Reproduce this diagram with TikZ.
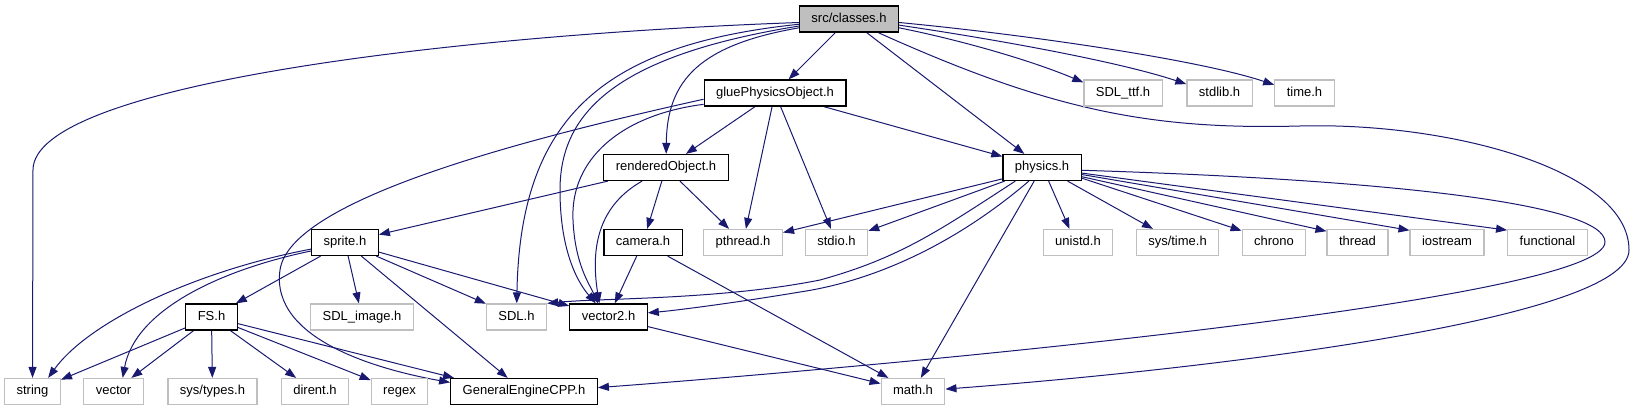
\documentclass[tikz,border=0pt]{standalone}
\usepackage{fontspec}
\setmainfont{Liberation Sans}
\usetikzlibrary{arrows.meta}
\definecolor{edgeblue}{RGB}{25,25,112}
\definecolor{extgray}{RGB}{191,191,191}
\pgfdeclarelayer{bg}
\pgfsetlayers{bg,main}
\begin{document}
\begin{tikzpicture}[x=1pt,y=-1pt,
  box/.style={draw, line width=1.2pt, fill=white, minimum height=26pt, inner xsep=12pt, inner ysep=0pt,
    font=\fontsize{13}{15}\selectfont, text height=9.5pt, text depth=2.7pt},
  ext/.style={box, draw=extgray},
  doc/.style={box, draw=black},
  root/.style={box, draw=black, fill=extgray},
  edge/.style={draw=edgeblue, line width=1pt, -{Triangle[length=11pt,width=8pt]}}]
\useasboundingbox (0,0) rectangle (1635,411);

% row 0
\node[root] (classes) at (849,19) {src/classes.h};
% row 1
\node[doc] (glue) at (775,93) {gluePhysicsObject.h};
\node[ext] (SDLttf) at (1123,93) {SDL\_ttf.h};
\node[ext] (stdlib) at (1219.5,93) {stdlib.h};
\node[ext] (time) at (1304.5,93) {time.h};
% row 2
\node[doc] (rendered) at (666,167.5) {renderedObject.h};
\node[doc] (physics) at (1042,167.5) {physics.h};
% row 3
\node[doc] (sprite) at (345,242.5) {sprite.h};
\node[doc] (camera) at (643,242.5) {camera.h};
\node[ext] (pthread) at (743,242.5) {pthread.h};
\node[ext] (stdio) at (836.5,242.5) {stdio.h};
\node[ext] (unistd) at (1078,242.5) {unistd.h};
\node[ext] (systime) at (1177.5,242.5) {sys/time.h};
\node[ext] (chrono) at (1274,242.5) {chrono};
\node[ext] (thread) at (1357.5,242.5) {thread};
\node[ext] (iostream) at (1447,242.5) {iostream};
\node[ext] (functional) at (1547.5,242.5) {functional};
% row 4
\node[doc] (FS) at (211.5,317) {FS.h};
\node[ext] (SDLimage) at (362,317) {SDL\_image.h};
\node[ext] (SDL) at (516.5,317) {SDL.h};
\node[doc] (vector2) at (608.5,317) {vector2.h};
% row 5
\node[ext] (string) at (32.5,391.5) {string};
\node[ext] (vector) at (113.5,391.5) {vector};
\node[ext] (systypes) at (212.5,391.5) {sys/types.h};
\node[ext] (dirent) at (315,391.5) {dirent.h};
\node[ext] (regex) at (399.5,391.5) {regex};
\node[doc] (GEC) at (524,391.5) {GeneralEngineCPP.h};
\node[ext] (math) at (913,391.5) {math.h};

\begin{pgfonlayer}{bg}
% from src/classes.h
\draw[edge] (classes.184) .. controls (450,35) and (33,85) .. (33,170) -- (string);
\draw[edge] (classes) -- (glue);
\draw[edge] (classes.190) .. controls (700,45) and (667,80) .. (rendered);
\draw[edge] (classes.186) .. controls (600,45) and (520,120) .. (SDL);
\draw[edge] (classes.188) .. controls (620,55) and (560,110) .. (560,190) .. controls (560,255) and (580,285) .. (vector2.133);
\draw[edge] (classes) -- (physics);
\draw[edge] (classes.-10) .. controls (960,40) and (1030,60) .. (SDLttf.165);
\draw[edge] (classes.-7) .. controls (1000,40) and (1120,62) .. (stdlib.165);
\draw[edge] (classes.-4) .. controls (1030,35) and (1200,60) .. (time.165);
\draw[edge] (classes.-25) .. controls (1050,110) and (1150,130) .. (1300,126) .. controls (1450,122) and (1629,170) .. (1629,250) .. controls (1629,320) and (1200,370) .. (math);
% from gluePhysicsObject.h
\draw[edge] (glue) -- (rendered);
\draw[edge] (glue) -- (pthread);
\draw[edge] (glue) -- (stdio);
\draw[edge] (glue) -- (physics);
\draw[edge] (glue.189) .. controls (620,115) and (570,160) .. (573,220) .. controls (575,265) and (590,285) .. (vector2.128);
\draw[edge] (glue.185) .. controls (520,140) and (290,200) .. (280,270) .. controls (270,340) and (380,370) .. (GEC.173);
% from renderedObject.h
\draw[edge] (rendered) -- (sprite);
\draw[edge] (rendered) -- (camera);
\draw[edge] (rendered) -- (pthread);
\draw[edge] (rendered) .. controls (600,205) and (590,245) .. (vector2.124);
% from physics.h
\draw[edge] (physics.-164) -- (pthread.14);
\draw[edge] (physics.-160) -- (stdio.20);
\draw[edge] (physics.-64) -- (unistd.122);
\draw[edge] (physics.-28) -- (systime.151);
\draw[edge] (physics.-15) -- (chrono.160);
\draw[edge] (physics.-13) -- (thread.160);
\draw[edge] (physics.-10.6) -- (iostream.162);
\draw[edge] (physics.-8.2) -- (functional.163);
\draw[edge] (physics.-153) .. controls (940,230) and (900,258) .. (820,280) .. controls (720,300) and (600,298) .. (SDL.north east);
\draw[edge] (physics.-134) .. controls (960,240) and (880,280) .. (800,292) .. controls (740,302) and (680,310) .. (vector2.6);
\draw[edge] (physics) -- (math);
\draw[edge] (physics.-4.6) .. controls (1400,180) and (1605,205) .. (1605,242) .. controls (1605,300) and (900,365) .. (GEC.3);
% from sprite.h
\draw[edge] (sprite) -- (FS);
\draw[edge] (sprite) -- (SDLimage);
\draw[edge] (sprite) -- (SDL);
\draw[edge] (sprite) -- (vector2);
\draw[edge] (sprite) -- (GEC);
\draw[edge] (sprite.191) .. controls (200,270) and (90,320) .. (string.41);
\draw[edge] (sprite.194) .. controls (220,270) and (135,310) .. (vector.56);
% from camera.h
\draw[edge] (camera) -- (vector2);
\draw[edge] (camera) -- (math);
% from vector2.h
\draw[edge] (vector2) -- (math);
% from FS.h
\draw[edge] (FS) -- (string);
\draw[edge] (FS) -- (vector);
\draw[edge] (FS) -- (systypes);
\draw[edge] (FS) -- (dirent);
\draw[edge] (FS) -- (regex);
\draw[edge] (FS) -- (GEC.169);
\end{pgfonlayer}
\end{tikzpicture}
\end{document}
